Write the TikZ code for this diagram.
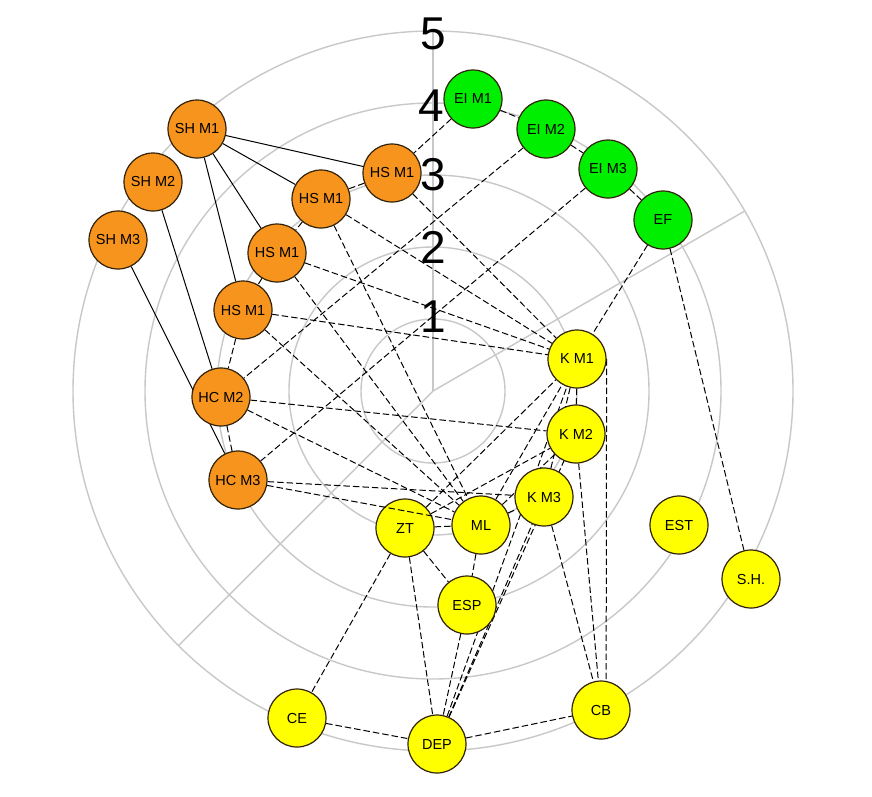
\documentclass[tikz,border=0pt]{standalone}
\usepackage{fontspec}
\setmainfont{Liberation Sans}
\pgfdeclarelayer{back}
\pgfdeclarelayer{bg}
\pgfsetlayers{back,bg,main}
\definecolor{gridgray}{RGB}{200,200,200}
\definecolor{nodeorange}{RGB}{247,148,30}
\definecolor{nodegreen}{RGB}{0,238,0}
\definecolor{nodeyellow}{RGB}{255,255,0}
\definecolor{nodeline}{RGB}{50,34,8}
\tikzset{
  vnode/.style={circle,draw=nodeline,line width=1.2pt,minimum size=58pt,inner sep=0pt,font=\fontsize{14.5}{15}\selectfont},
  orange node/.style={vnode,fill=nodeorange},
  green node/.style={vnode,fill=nodegreen},
  yellow node/.style={vnode,fill=nodeyellow},
  grid line/.style={draw=gridgray,line width=1.4pt},
  link/.style={draw=black,line width=1pt,dash pattern=on 6.5pt off 3pt},
  solid link/.style={draw=black,line width=1pt},
  ringlabel/.style={font=\fontsize{46}{46}\selectfont,inner sep=0pt}
}
\begin{document}
\begin{tikzpicture}[x=1pt,y=-1pt]
\begin{pgfonlayer}{back}
\fill[white] (0,0) rectangle (872,796);
\end{pgfonlayer}
\useasboundingbox (0,0) rectangle (872,796);
\coordinate (o) at (433,391);
% nodes
\node[green node] (eim1) at (473,99) {EI M1};
\node[green node] (eim2) at (546,129) {EI M2};
\node[green node] (eim3) at (608,169) {EI M3};
\node[green node] (ef) at (663,220) {EF};
\node[orange node] (hsa) at (392,173) {HS M1};
\node[orange node] (hsb) at (321,199) {HS M1};
\node[orange node] (hsc) at (277,253) {HS M1};
\node[orange node] (hsd) at (243,310) {HS M1};
\node[orange node] (sh1) at (197,129) {SH M1};
\node[orange node] (sh2) at (153,182) {SH M2};
\node[orange node] (sh3) at (118,240) {SH M3};
\node[orange node] (hcm2) at (221,397) {HC M2};
\node[orange node] (hcm3) at (238,480) {HC M3};
\node[yellow node] (km1) at (577,359) {K M1};
\node[yellow node] (km2) at (576,434) {K M2};
\node[yellow node] (km3) at (544,497) {K M3};
\node[yellow node] (ml) at (481,525) {ML};
\node[yellow node] (zt) at (405,528) {ZT};
\node[yellow node] (esp) at (467,605) {ESP};
\node[yellow node] (ce) at (297,718) {CE};
\node[yellow node] (dep) at (437,744) {DEP};
\node[yellow node] (cb) at (601,710) {CB};
\node[yellow node] (est) at (679,525) {EST};
\node[yellow node] (shh) at (751,579) {S.H.};
\begin{pgfonlayer}{bg}
  % polar grid
  \foreach \r in {72,144,216,288,360} \draw[grid line] (o) circle[radius=\r pt];
  \draw[grid line] (o) -- ++(90:360pt);
  \draw[grid line] (o) -- ++(30:360pt);
  \draw[grid line] (o) -- ++(225:360pt);
  % solid links
  \draw[solid link] (sh1) -- (hsa);
  \draw[solid link] (sh1) -- (hsb);
  \draw[solid link] (sh1) -- (hsc);
  \draw[solid link] (sh1) -- (hsd);
  \draw[solid link] (sh2) -- (hcm2);
  \draw[solid link] (sh3) -- (hcm3);
  % dashed chains
  \draw[link] (hsa) -- (hsb);
  \draw[link] (hsb) -- (hsc);
  \draw[link] (hsc) -- (hsd);
  \draw[link] (hsd) -- (hcm2);
  \draw[link] (hcm2) -- (hcm3);
  \draw[link] (eim1) -- (eim2);
  \draw[link] (eim2) -- (eim3);
  \draw[link] (eim3) -- (ef);
  \draw[link] (eim1) -- (hsa);
  \draw[link] (eim2) -- (hcm2);
  \draw[link] (eim3) -- (hcm3);
  \draw[link] (ef) -- (km1);
  \draw[link] (ef) -- (shh);
  % to K M1
  \draw[link] (hsa) -- (km1);
  \draw[link] (hsb) -- (km1);
  \draw[link] (hsc) -- (km1);
  \draw[link] (hsd) -- (km1);
  % to ML
  \draw[link] (hsb) -- (ml);
  \draw[link] (hsc) -- (ml);
  \draw[link] (hsd) -- (ml);
  \draw[link] (hcm2) -- (ml);
  \draw[link] (hcm2) -- (km2);
  \draw[link] (hcm3) -- (km3);
  % K cluster
  \draw[link] (km1) -- (km2);
  \draw[link] (km1) -- (km3);
  \draw[link] (km1.east) -- (cb.80);
  \draw[link] (km2) -- (cb);
  \draw[link] (km3) -- (cb);
  \draw[link] (ml) -- (km3);
  \draw[link] (ml) -- (km1);
  \draw[link] (ml) -- (km2);
  \draw[link] (zt) -- (km1);
  \draw[link] (zt) -- (km2);
  \draw[link] (zt) -- (ml);
  \draw[link] (ml) -- (esp);
  \draw[link] (zt) -- (esp);
  \draw[link] (zt) -- (ce);
  \draw[link] (zt) -- (dep);
  \draw[link] (esp) -- (dep);
  \draw[link] (dep) -- (km3);
  \draw[link] (dep) -- (km2);
  \draw[link] (dep) -- (km1);
  \draw[link] (ce) -- (dep);
  \draw[link] (dep) -- (cb);
\end{pgfonlayer}
% link drawn over ZT
\draw[link] (hcm3) -- (ml);
% ring labels
\node[ringlabel] (l5) at (433,34) {5};
\node[ringlabel] (l4) at (431,106) {4};
\node[ringlabel] (l3) at (433,175) {3};
\node[ringlabel] (l2) at (433,247) {2};
\node[ringlabel] (l1) at (433,317) {1};
\end{tikzpicture}
\end{document}
